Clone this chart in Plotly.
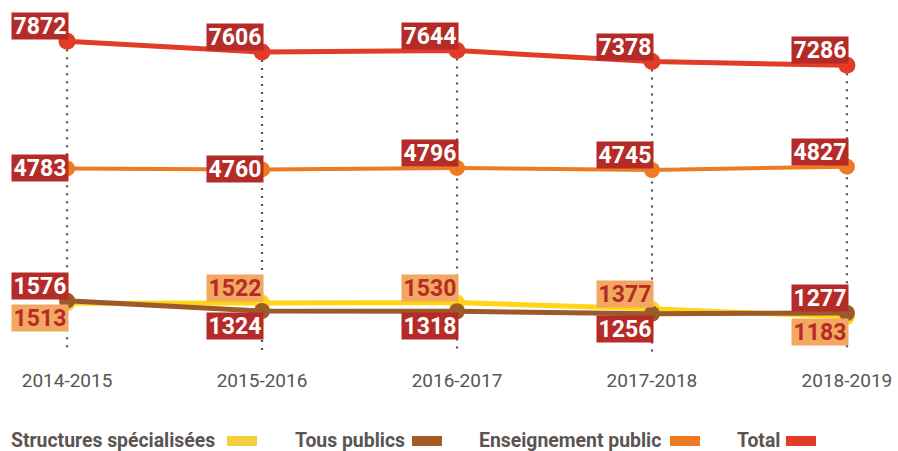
import plotly.graph_objects as go

# Effectifs par année scolaire
years = ["2014-2015", "2015-2016", "2016-2017", "2017-2018", "2018-2019"]
structures_specialisees = [1513, 1522, 1530, 1377, 1183]
tous_publics = [1576, 1324, 1318, 1256, 1277]
enseignement_public = [4783, 4760, 4796, 4745, 4827]
total = [7872, 7606, 7644, 7378, 7286]

# Series styling: name, values, line colour, label bg, label text, width, marker size
series = [
    ("Structures spécialisées", structures_specialisees, "#FFD519", "#F2A860", "#B52B27", 5, 16),
    ("Tous publics", tous_publics, "#9C5A2B", "#B52B27", "#FFFFFF", 5, 16),
    ("Enseignement public", enseignement_public, "#EE7B22", "#B52B27", "#FFFFFF", 4, 16),
    ("Total", total, "#E23B28", "#B52B27", "#FFFFFF", 5, 17),
]

# Label placement relative to each point ("top" = above, "bottom" = below, "middle" = centred)
label_side = {
    "Structures spécialisées": ["bottom", "top", "top", "top", "bottom"],
    "Tous publics": ["top", "bottom", "bottom", "bottom", "top"],
    "Enseignement public": ["middle", "middle", "top", "top", "top"],
    "Total": ["top", "top", "top", "top", "top"],
}

Y_MIN, Y_MAX = 330, 8870
FONT = "Roboto, sans-serif"
TEXT_GREY = "#5A5553"

fig = go.Figure()

# dotted guides from the total down to the axis floor
for yr, t in zip(years, total):
    fig.add_trace(go.Scatter(
        x=[yr, yr], y=[t, Y_MIN], mode="lines",
        line=dict(color="#55504E", width=2.2, dash="2px,6px"),
        hoverinfo="skip", showlegend=False,
    ))

annotations = []
for name, vals, lc, bg, fc, lw, ms in series:
    fig.add_trace(go.Scatter(
        x=years, y=vals, mode="lines+markers", name=name,
        line=dict(color=lc, width=lw),
        marker=dict(color=lc, size=ms),
        showlegend=False,
    ))
    for yr, v, side in zip(years, vals, label_side[name]):
        yanchor = {"top": "bottom", "bottom": "top", "middle": "middle"}[side]
        yshift = {"top": 1, "bottom": -1, "middle": 0}[side]
        annotations.append(dict(
            x=yr, y=v, xref="x", yref="y", text=f"<b>{v}</b>", showarrow=False,
            xanchor="right", yanchor=yanchor, xshift=2, yshift=yshift,
            bgcolor=bg, width=56, height=26, borderpad=0,
            font=dict(family=FONT, size=23, color=fc),
        ))

# legend: label followed by its colour swatch
legend_items = [
    ("Structures spécialisées", 9, 227, "#F5CE3F"),
    ("Tous publics", 293, 412, "#A55B25"),
    ("Enseignement public", 477, 670, "#EE7B22"),
    ("Total", 735, 786, "#E23B28"),
]
W, H, MB = 898, 451, 99
plot_h = H - MB
shapes = []
for label, tx, sx, col in legend_items:
    annotations.append(dict(
        x=tx / W, y=-(440 - plot_h) / plot_h, xref="paper", yref="paper",
        text=f"<b>{label}</b>", showarrow=False, xanchor="left", yanchor="middle",
        font=dict(family=FONT, size=19.4, color=TEXT_GREY),
    ))
    shapes.append(dict(
        type="rect", xref="paper", yref="paper",
        x0=sx / W, x1=(sx + 30) / W,
        y0=-(446 - plot_h) / plot_h, y1=-(436 - plot_h) / plot_h,
        fillcolor=col, line=dict(width=0),
    ))

fig.update_layout(
    width=W, height=H,
    margin=dict(l=0, r=0, t=0, b=MB),
    paper_bgcolor="white", plot_bgcolor="white",
    annotations=annotations, shapes=shapes,
    xaxis=dict(
        type="category", range=[-0.344, 4.262],
        showgrid=False, zeroline=False, showline=False, ticks="",
        tickfont=dict(family=FONT, size=19, color=TEXT_GREY),
        ticklabelstandoff=15,
    ),
    yaxis=dict(range=[Y_MIN, Y_MAX], visible=False),
    showlegend=False,
)

fig.write_html("out.html")
